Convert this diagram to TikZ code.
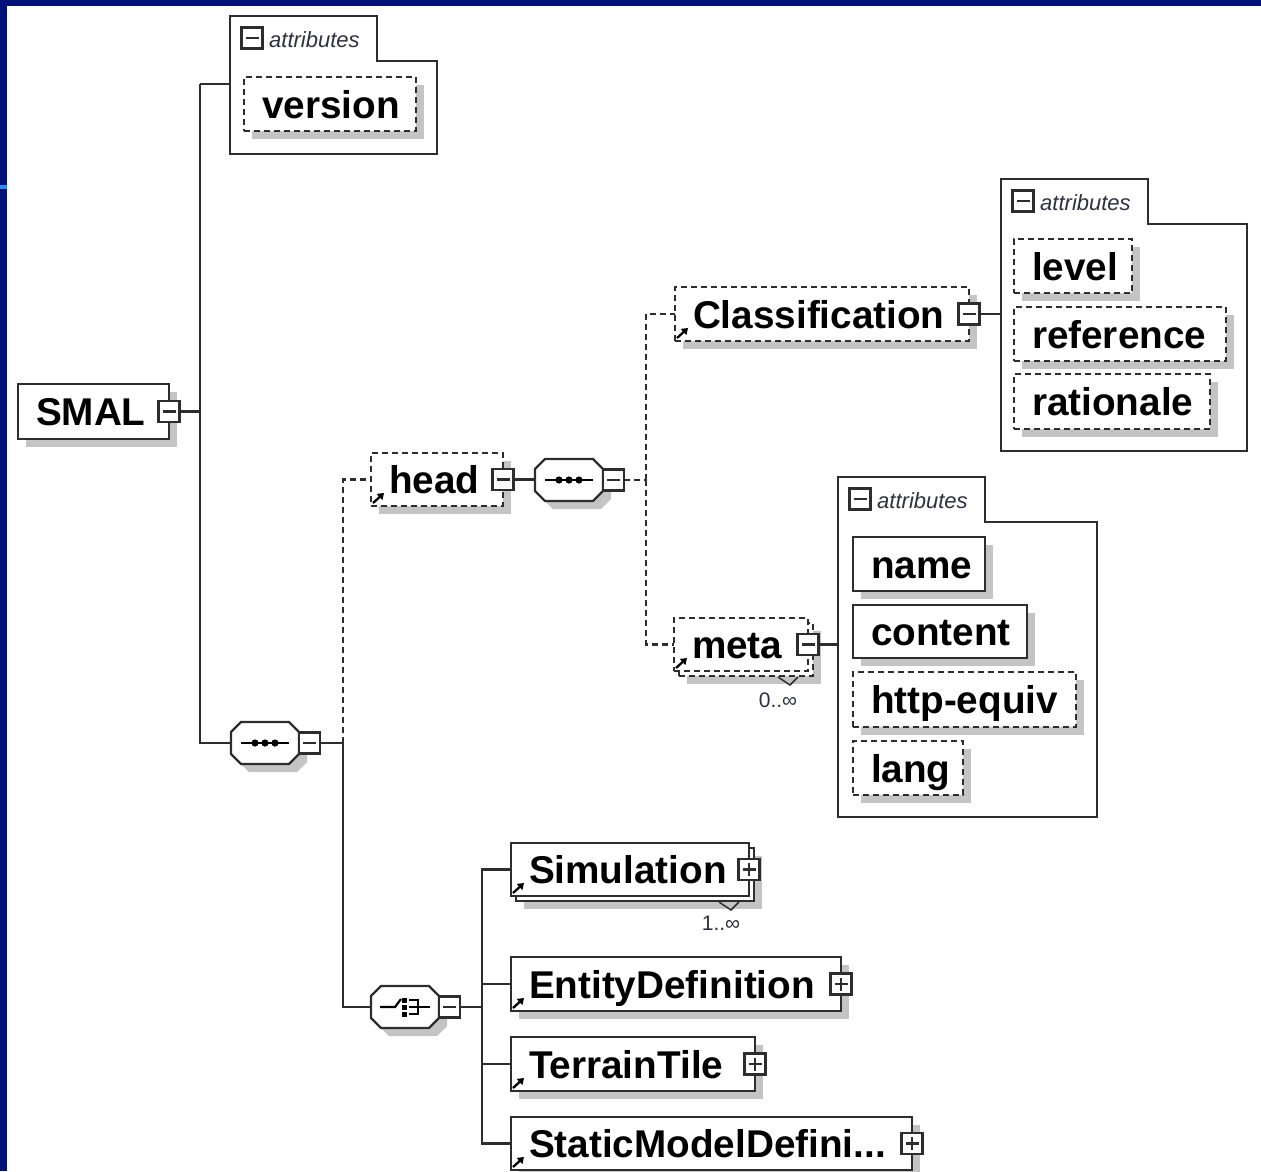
\documentclass[tikz,border=0pt]{standalone}
\usepackage{fontspec}
\setmainfont{Liberation Sans}
\usetikzlibrary{shadows,arrows.meta,calc}

\definecolor{framebl}{RGB}{0,18,120}
\definecolor{framelt}{RGB}{40,140,240}
\definecolor{ink}{RGB}{45,45,45}
\definecolor{shadowgray}{RGB}{196,196,196}
\definecolor{labelink}{RGB}{48,48,64}

\tikzset{
  base/.style={draw=ink, line width=2.3pt, fill=white},
  elem/.style={base, rectangle, anchor=north west, inner xsep=18pt, inner ysep=0pt,
    outer sep=0pt, text width=#1pt, align=left, text height=28pt, text depth=0pt,
    minimum height=54pt, font=\fontsize{38.7pt}{40pt}\selectfont\bfseries,
    execute at begin node={\hyphenpenalty=10000 \exhyphenpenalty=10000 }},
  single/.style={drop shadow={shadow xshift=8pt, shadow yshift=-8pt, opacity=1,
    fill=shadowgray, draw=none}},
  multi/.style={drop shadow={shadow xshift=13pt, shadow yshift=-13pt, opacity=1,
    fill=shadowgray, draw=none},
    copy shadow={shadow xshift=5pt, shadow yshift=-5pt, draw=ink, fill=white,
    line width=2.3pt}},
  opt/.style={dash pattern=on 6pt off 4pt},
  conn/.style={draw=ink, line width=2.3pt},
  pmbox/.style={draw=ink, line width=2.3pt, fill=white, rectangle, minimum size=21pt,
    inner sep=0pt, outer sep=0pt},
  minus/.style={pmbox, path picture={\draw[ink, line width=2.3pt]
    ([xshift=4pt]path picture bounding box.west) --
    ([xshift=-4pt]path picture bounding box.east);}},
  plus/.style={pmbox, path picture={\draw[ink, line width=2.3pt]
    ([xshift=4pt]path picture bounding box.west) --
    ([xshift=-4pt]path picture bounding box.east)
    ([yshift=4pt]path picture bounding box.south) --
    ([yshift=-4pt]path picture bounding box.north);}},
  oct/.style={minimum width=68pt, minimum height=42pt, inner sep=0pt, outer sep=0pt,
    anchor=north west},
  octpath/.style={insert path={++(10,0) -- ++(48,0) -- ++(10,10) -- ++(0,22)
    -- ++(-10,10) -- ++(-48,0) -- ++(-10,-10) -- ++(0,-22) -- cycle}},
  linkarrow/.style={draw=black, line width=2.3pt, -{Triangle[length=6pt,width=8pt]}},
  attrlabel/.style={font=\fontsize{22pt}{24pt}\selectfont\itshape, text=labelink,
    inner sep=0pt},
  mult/.style={font=\fontsize{21pt}{22pt}\selectfont, text=labelink, inner sep=0pt},
  notch/.style={draw=ink, line width=1.5pt},
  pics/attrgroup/.style 2 args={code={
    \node[inner sep=0pt, outer sep=0pt, minimum width=#1pt, minimum height=#2pt,
      anchor=north west] (-box) at (0,0) {};
    \draw[ink, line width=2.3pt] (0,0) -- (147,0) -- (147,45) -- (#1,45) -- (#1,#2)
      -- (0,#2) -- cycle;
    \node[minus] (-icon) at (22,22) {};
    \node[attrlabel, anchor=base west] (-label) at (39,31) {attributes};
  }}
}

\begin{document}
\begin{tikzpicture}[x=1pt, y=-1pt]
\useasboundingbox (0,0) rectangle (1261,1171);
\fill[white] (0,0) rectangle (1261,1171);

% window frame
\fill[framebl] (0,0) rectangle (1261,6);
\fill[framebl] (0,0) rectangle (7,1171);
\fill[framelt] (0,185) rectangle (7,189);

% attribute groups
\pic (grpA) at (230,16) {attrgroup={207}{138}};
\pic (grpC) at (1001,179) {attrgroup={246}{272}};
\pic (grpM) at (838,477) {attrgroup={259}{340}};

% attributes
\node[elem=136, single, opt] (version) at (244,77) {version};
\node[elem=82, single, opt] (level) at (1014,239) {level};
\node[elem=176, single, opt] (reference) at (1014,307) {reference};
\node[elem=160, single, opt, minimum height=55pt] (rationale) at (1014,374) {rationale};
\node[elem=96, single] (name) at (853,537) {name};
\node[elem=138, single, minimum height=53pt] (content) at (853,605) {content};
\node[elem=187, single, opt, minimum height=55pt] (httpequiv) at (853,672) {http-equiv};
\node[elem=74, single, opt] (lang) at (853,741) {lang};

% elements
\node[elem=115, single, minimum height=55pt] (smal) at (18,384) {SMAL};
\node[elem=96, single, opt, minimum height=53pt] (head) at (371,453) {head};
\node[elem=258, single, opt] (class) at (675,287) {Classification};
\node[elem=98, multi, opt, minimum height=53pt] (meta) at (674,618) {meta};
\node[elem=202, multi, minimum height=53pt] (sim) at (511,843) {Simulation};
\node[elem=294, single] (ent) at (511,957) {EntityDefinition};
\node[elem=208, single] (terr) at (511,1037) {TerrainTile};
\node[elem=365, single, minimum height=53pt] (static) at (511,1117) {StaticModelDefini...};

% compositors
\node[oct] (sq1) at (535,459) {};
\node[oct] (sq2) at (231,722) {};
\node[oct] (choice) at (371,986) {};
\foreach \o in {sq1,sq2,choice}{
  \fill[shadowgray] ([shift={(8,8)}]\o.north west) [octpath];
  \filldraw[base] (\o.north west) [octpath];
}

% sequence glyphs
\foreach \o in {sq1,sq2}{
  \draw[black, line width=2.2pt] ([xshift=-24pt]\o.center) -- ([xshift=24pt]\o.center);
  \foreach \dx in {-10,0,10}
    \fill[black] ([xshift=\dx pt]\o.center) circle[radius=3.6pt];
}

% choice glyph
\draw[black, line width=2.2pt] ([xshift=-25pt]choice.center) -- ++(15,0) -- ++(6,-8);
\foreach \dy in {-7,0,7}
  \fill[black] ([shift={(-3,\dy-2.5)}]choice.center) rectangle ++(5,5);
\draw[black, line width=2.2pt] ([shift={(4,-7)}]choice.center) -- ++(9,0) -- ++(0,14)
  -- ++(-9,0);
\draw[black, line width=2.2pt] ([shift={(4,0)}]choice.center) -- ++(21,0);

% expand / collapse buttons
\node[minus] (smalpm) at (smal.east) {};
\node[minus] (headpm) at (head.east) {};
\node[minus] (classpm) at (class.east) {};
\node[minus] (metapm) at (meta.east) {};
\node[plus] (simpm) at (sim.east) {};
\node[plus] (entpm) at (ent.east) {};
\node[plus] (terrpm) at (terr.east) {};
\node[plus] (staticpm) at (static.east) {};
\node[minus, anchor=west] (sq1pm) at (sq1.east) {};
\node[minus, anchor=west] (sq2pm) at (sq2.east) {};
\node[minus, anchor=west] (choicepm) at (choice.east) {};

% reference arrows
\foreach \e in {head,class,meta,sim,ent,terr,static}
  \draw[linkarrow] ([shift={(2,-3)}]\e.south west) -- ++(11,-10);

% occurrence marks
\draw[notch] ([shift={(-30,6)}]meta.south east) -- ++(12,8) -- ++(8,-8);
\draw[notch] ([shift={(-30,6)}]sim.south east) -- ++(12,8) -- ++(8,-8);
\node[mult, anchor=base] (metamult) at ([shift={(-30,36)}]meta.south east) {0..∞};
\node[mult, anchor=base] (simmult) at ([shift={(-28,34)}]sim.south east) {1..∞};

% junctions
\coordinate (j1) at (200,84);
\coordinate (j2) at ([xshift=23pt]sq2pm.east);
\coordinate (j3) at ([xshift=22pt]sq1pm.east);
\coordinate (j4) at ([xshift=22pt]choicepm.east);

% connectors
\draw[conn] (j1) -- (j1 -| grpA-box.west);
\draw[conn] (j1) |- (sq2.west);
\draw[conn] (smalpm.east) -- (smalpm.east -| j1);
\draw[conn] (sq2pm.east) -- (j2);
\draw[conn] (j2) |- (choice.west);
\draw[conn, opt] (j2) |- (head.west);
\draw[conn] (headpm.east) -- (headpm.east -| sq1.west);
\draw[conn, opt] (sq1pm.east) -- (j3);
\draw[conn, opt] (j3) |- (class.west);
\draw[conn, opt] (j3) |- (meta.west);
\draw[conn] (classpm.east) -- (classpm.east -| grpC-box.west);
\draw[conn] (metapm.east) -- (metapm.east -| grpM-box.west);
\draw[conn] (choicepm.east) -- (j4);
\draw[conn] (j4) |- (sim.west);
\draw[conn] (j4) |- (static.west);
\draw[conn] (ent.west -| j4) -- (ent.west);
\draw[conn] (terr.west -| j4) -- (terr.west);
\end{tikzpicture}
\end{document}
